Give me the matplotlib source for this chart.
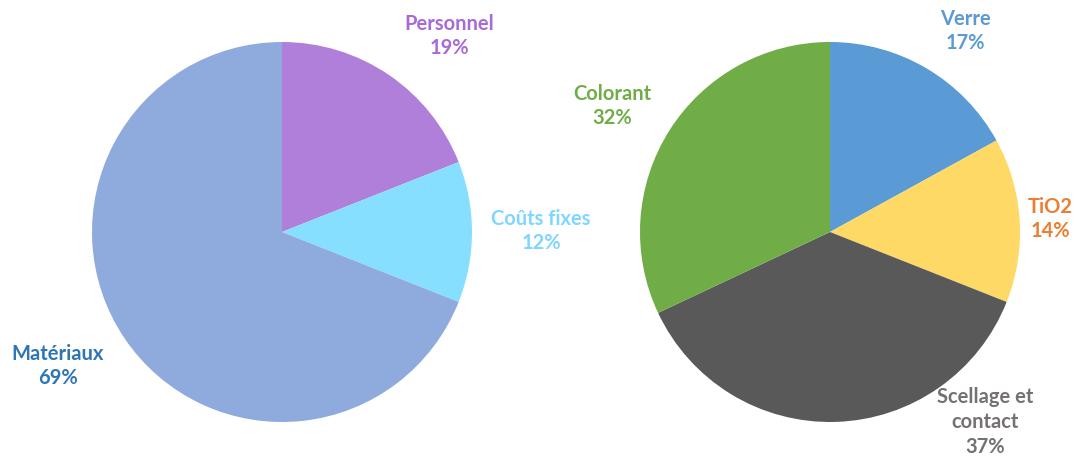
import matplotlib
matplotlib.use("Agg")
import matplotlib.pyplot as plt

# Data
left_labels = ["Personnel", "Coûts fixes", "Matériaux"]
left_values = [19, 12, 69]
left_colors = ["#B07FD9", "#87DFFF", "#8FAADC"]
left_text_colors = ["#A66BD8", "#7FD6FF", "#2E75B6"]
left_text_pos = [(449, 36), (541, 231), (58, 366)]

right_labels = ["Verre", "TiO2", "Scellage et\ncontact", "Colorant"]
right_values = [17, 14, 37, 32]
right_colors = ["#5B9BD5", "#FFD966", "#595959", "#70AD47"]
right_text_colors = ["#5B9BD5", "#ED7D31", "#767171", "#70AD47"]
right_text_pos = [(965, 31), (1050, 219), (985, 422), (612, 106)]

W, H = 1083, 459
fig = plt.figure(figsize=(W / 100, H / 100), dpi=100)
ax = fig.add_axes([0, 0, 1, 1])

R = 190
ax.pie(left_values, colors=left_colors, startangle=90, counterclock=False,
       center=(282, H - 232), radius=R, frame=True,
       wedgeprops=dict(linewidth=0))
ax.pie(right_values, colors=right_colors, startangle=90, counterclock=False,
       center=(830, H - 232), radius=R, frame=True,
       wedgeprops=dict(linewidth=0))
ax.set_xlim(0, W)
ax.set_ylim(0, H)
ax.set_aspect("equal")
ax.axis("off")

font = dict(family=["Lato", "DejaVu Sans"], fontweight="bold", fontsize=14.5,
            ha="center", va="center", linespacing=1.3)
for lab, v, c, (x, y) in zip(left_labels, left_values, left_text_colors, left_text_pos):
    ax.text(x, H - y, f"{lab}\n{v}%", color=c, **font)
for lab, v, c, (x, y) in zip(right_labels, right_values, right_text_colors, right_text_pos):
    ax.text(x, H - y, f"{lab}\n{v}%", color=c, **font)

fig.savefig("out.png", dpi=100)
